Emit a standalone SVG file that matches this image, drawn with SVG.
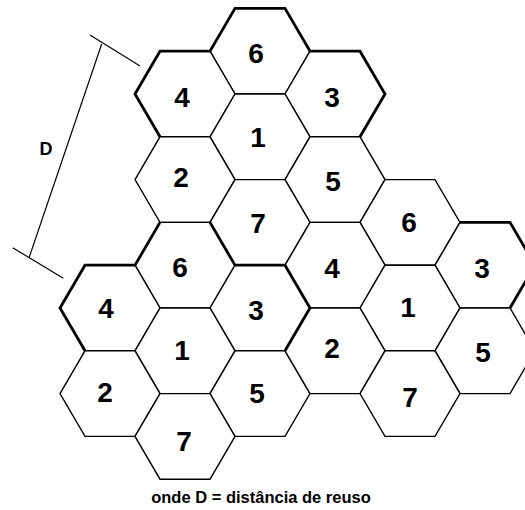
<svg xmlns="http://www.w3.org/2000/svg" xmlns:xlink="http://www.w3.org/1999/xlink" width="525" height="510" viewBox="0 0 525 510">
<style>
.cell{fill:#fff;stroke:#000;stroke-width:1.4;stroke-linejoin:miter}
.thick{fill:none;stroke:#000;stroke-width:2.8;stroke-linejoin:miter;stroke-linecap:butt}
.lbl{font-family:"Liberation Sans",Arial,sans-serif;font-weight:bold;font-size:28px;text-anchor:middle;fill:#000}
.dim{fill:none;stroke:#000;stroke-width:1.2}
.cap{font-family:"Liberation Sans",Arial,sans-serif;font-weight:bold;fill:#000}
</style>
<defs>
<polygon id="hex" points="-50,0 -25,-42.8 25,-42.8 50,0 25,42.8 -25,42.8"/>
</defs>
<rect width="525" height="510" fill="#fff"/>
<!-- top cluster -->
<g id="t6"><use xlink:href="#hex" href="#hex" class="cell" x="260" y="51.2"/><text class="lbl" x="256" y="63">6</text></g>
<g id="t4"><use xlink:href="#hex" href="#hex" class="cell" x="185" y="94"/><text class="lbl" x="182" y="107">4</text></g>
<g id="t3"><use xlink:href="#hex" href="#hex" class="cell" x="335" y="94"/><text class="lbl" x="332" y="107">3</text></g>
<g id="t1"><use xlink:href="#hex" href="#hex" class="cell" x="260" y="136.8"/><text class="lbl" x="258" y="147">1</text></g>
<g id="t2"><use xlink:href="#hex" href="#hex" class="cell" x="185" y="179.6"/><text class="lbl" x="181" y="187">2</text></g>
<g id="t5"><use xlink:href="#hex" href="#hex" class="cell" x="335" y="179.6"/><text class="lbl" x="333" y="191">5</text></g>
<g id="t7"><use xlink:href="#hex" href="#hex" class="cell" x="260" y="222.4"/><text class="lbl" x="258" y="233">7</text></g>
<!-- lower-left cluster -->
<g id="l6"><use xlink:href="#hex" href="#hex" class="cell" x="185" y="265.2"/><text class="lbl" x="180" y="277">6</text></g>
<g id="l4"><use xlink:href="#hex" href="#hex" class="cell" x="110" y="308"/><text class="lbl" x="106" y="318">4</text></g>
<g id="l3"><use xlink:href="#hex" href="#hex" class="cell" x="260" y="308"/><text class="lbl" x="256" y="320">3</text></g>
<g id="l1"><use xlink:href="#hex" href="#hex" class="cell" x="185" y="350.8"/><text class="lbl" x="182" y="360">1</text></g>
<g id="l2"><use xlink:href="#hex" href="#hex" class="cell" x="110" y="393.6"/><text class="lbl" x="105" y="402">2</text></g>
<g id="l5"><use xlink:href="#hex" href="#hex" class="cell" x="260" y="393.6"/><text class="lbl" x="257" y="403">5</text></g>
<g id="l7"><use xlink:href="#hex" href="#hex" class="cell" x="185" y="436.4"/><text class="lbl" x="184" y="451">7</text></g>
<!-- right cluster -->
<g id="r6"><use xlink:href="#hex" href="#hex" class="cell" x="410" y="222.4"/><text class="lbl" x="409" y="232">6</text></g>
<g id="r4"><use xlink:href="#hex" href="#hex" class="cell" x="335" y="265.2"/><text class="lbl" x="332" y="278">4</text></g>
<g id="r3"><use xlink:href="#hex" href="#hex" class="cell" x="485" y="265.2"/><text class="lbl" x="482" y="278">3</text></g>
<g id="r1"><use xlink:href="#hex" href="#hex" class="cell" x="410" y="308"/><text class="lbl" x="408" y="317">1</text></g>
<g id="r2"><use xlink:href="#hex" href="#hex" class="cell" x="335" y="350.8"/><text class="lbl" x="332" y="358">2</text></g>
<g id="r5"><use xlink:href="#hex" href="#hex" class="cell" x="485" y="350.8"/><text class="lbl" x="483" y="362">5</text></g>
<g id="r7"><use xlink:href="#hex" href="#hex" class="cell" x="410" y="393.6"/><text class="lbl" x="410" y="407">7</text></g>
<!-- cluster outlines -->
<g id="outlines">
<path class="thick" d="M160,136.8 L135,94 L160,51.2 L210,51.2 L235,8.4 L285,8.4 L310,51.2 L360,51.2 L385,94 L360,136.8"/>
<path class="thick" d="M85,350.8 L60,308 L85,265.2 L135,265.2 L160,222.4"/>
<path class="thick" d="M210,222.4 L235,265.2 L285,265.2 L310,308 L285,350.8"/>
<path class="thick" d="M460,222.4 L510,222.4 L535,265.2 L510,308"/>
</g>
<!-- dimension D -->
<g id="connectors">
<line class="dim" x1="101.7" y1="44" x2="29.3" y2="257"/>
<line class="dim" x1="90" y1="35" x2="140" y2="66"/>
<line class="dim" x1="12.7" y1="247.7" x2="63.3" y2="278.3"/>
</g>
<text class="cap" x="46" y="155" font-size="18" text-anchor="middle">D</text>
<text class="cap" x="261" y="503" font-size="16.5" text-anchor="middle">onde D = distância de reuso</text>
</svg>
